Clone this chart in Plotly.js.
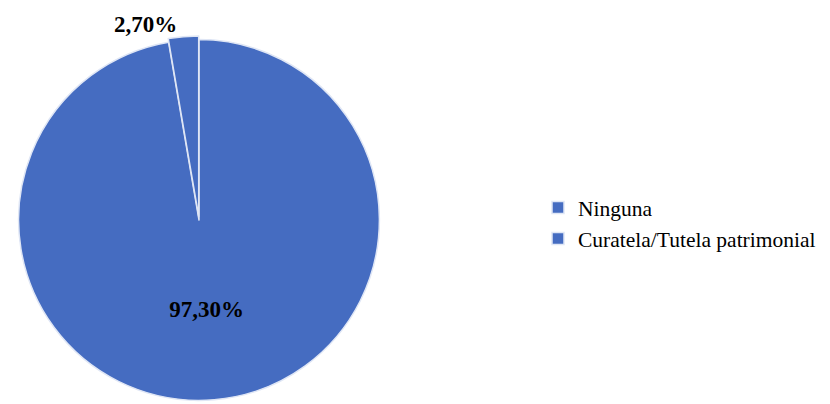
<!DOCTYPE html>
<html>
<head>
<meta charset="utf-8">
<script src="https://cdn.plot.ly/plotly-3.0.1.min.js"></script>
<style>html,body{margin:0;padding:0;background:#fff;}#chart{width:830px;height:404px;}</style>
</head>
<body>
<div id="chart"></div>
<script>
const categories = ['Ninguna', 'Curatela/Tutela patrimonial'];
const percentages = [97.30, 2.70];
const sliceColors = ['#456CC1', '#456CC1'];

const trace = {
  type: 'pie',
  labels: categories,
  values: percentages,
  sort: false,
  direction: 'clockwise',
  rotation: 0,
  marker: { colors: sliceColors, line: { color: '#dfe6f5', width: 1.5 } },
  texttemplate: '%{percent:.2%}',
  textposition: ['inside', 'outside'],
  insidetextorientation: 'horizontal',
  textfont: { family: 'Liberation Serif', size: 23, color: '#000', weight: 'bold' },
  pull: [0, 0.02],
  hoverinfo: 'label+percent',
  domain: { x: [10/830, 388/830], y: [0, 1 - 36/404] },
  showlegend: true
};

const layout = {
  width: 830,
  height: 404,
  margin: { l: 0, r: 0, t: 0, b: 0 },
  paper_bgcolor: '#ffffff',
  separators: ',.',
  showlegend: true,
  font: { family: 'Liberation Serif', color: '#000' },
  legend: {
    x: 538/830, xanchor: 'left',
    y: 1 - 223/404, yanchor: 'middle',
    font: { family: 'Liberation Serif', size: 21.5, color: '#000' },
    itemwidth: 30,
    traceorder: 'normal'
  }
};

Plotly.newPlot('chart', [trace], layout, { displayModeBar: false, staticPlot: true });
</script>
</body>
</html>
